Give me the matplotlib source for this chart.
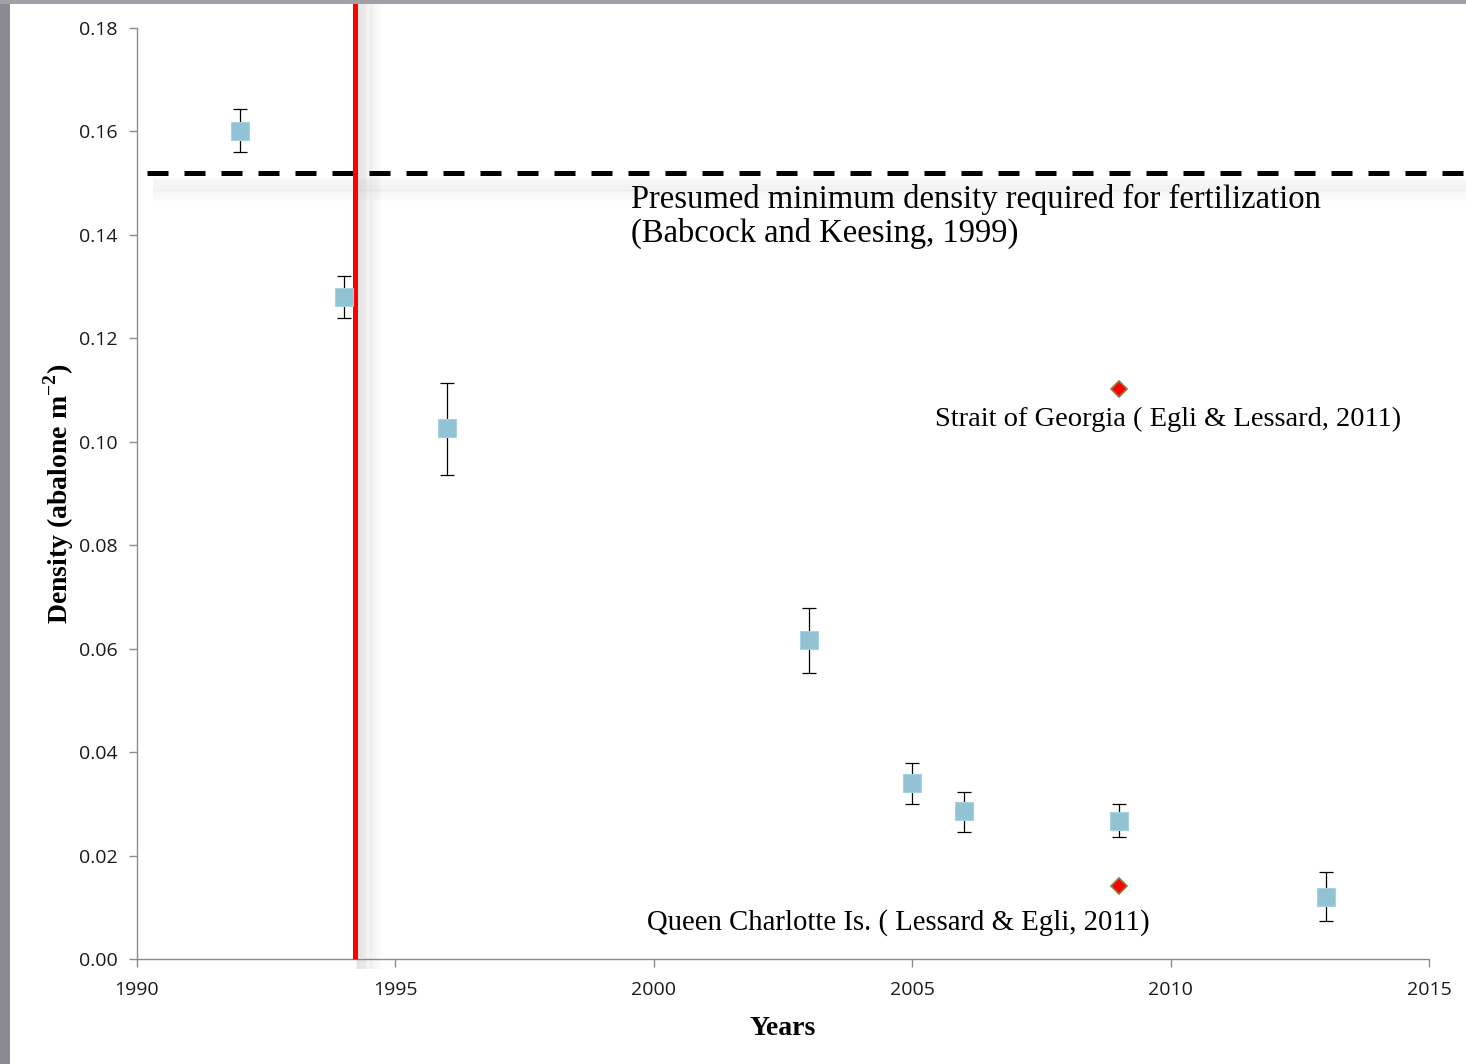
import matplotlib
matplotlib.use("Agg")
import matplotlib.pyplot as plt
from matplotlib.patches import Rectangle
import numpy as np

# ---- data ----
years = [1992, 1994, 1996, 2003, 2005, 2006, 2009, 2013]
density = [0.1601, 0.1280, 0.1027, 0.0617, 0.0340, 0.0286, 0.0267, 0.0120]
err_upper = [0.1643, 0.1320, 0.1114, 0.0679, 0.0379, 0.0323, 0.0300, 0.0168]
err_lower = [0.1560, 0.1240, 0.0936, 0.0553, 0.0300, 0.0246, 0.0236, 0.0073]

ref_years = [2009, 2009]
ref_density = [0.1102, 0.0141]

threshold = 0.152
closure_year = 1994.22

xticks = [1990, 1995, 2000, 2005, 2010, 2015]
yticks = [0.00, 0.02, 0.04, 0.06, 0.08, 0.10, 0.12, 0.14, 0.16, 0.18]

plt.rcParams["mathtext.fontset"] = "custom"
plt.rcParams["mathtext.rm"] = "Liberation Serif"
plt.rcParams["mathtext.bf"] = "Liberation Serif:bold"

# ---- figure ----
fig = plt.figure(figsize=(14.66, 10.64), dpi=100)
ax = fig.add_axes([137/1466, 1 - 959/1064, (1429-137)/1466, (959-28)/1064])

# slide border (gray strips)
fig.patches.append(Rectangle((0, 0), 10/1466, 1, transform=fig.transFigure,
                             facecolor="#8a8a90", edgecolor="none", zorder=0))
fig.patches.append(Rectangle((0, 1 - 4/1064), 1, 4/1064, transform=fig.transFigure,
                             facecolor="#a0a0a6", edgecolor="none", zorder=0))

ax.set_xlim(1990, 2015)
ax.set_ylim(0, 0.18)

# soft shadows (to the right of the red line, below the dashed line)
for i in range(1, 26):
    a = 0.10 * (1 - i / 26)
    ax.plot([closure_year + 0.02 + i * 0.02] * 2, [-0.002, 0.1855], color="0.45",
            alpha=a, lw=1.5, clip_on=False, zorder=1, solid_capstyle="butt")
for i in range(1, 14):
    a = 0.08 * (1 - abs(i - 6) / 8)
    ax.plot([1990.3, 2016.5], [threshold - 0.0008 - i * 0.00035] * 2, color="0.45",
            alpha=a, lw=1.5, clip_on=False, zorder=1, solid_capstyle="butt")

# threshold dashed line (extends beyond axes)
ax.plot([1990.2, 2016.5], [threshold, threshold], color="black", lw=3.6,
        dashes=(4.2, 3.2), clip_on=False, zorder=3)

# closure red line
ax.plot([closure_year, closure_year], [0, 0.1855], color="#ff0000", lw=3.6,
        clip_on=False, zorder=4, solid_capstyle="butt")

# data with error bars
yerr = [np.array(density) - np.array(err_lower), np.array(err_upper) - np.array(density)]
ax.errorbar(years, density, yerr=yerr, fmt="none", ecolor="black", elinewidth=0.9,
            capsize=5, capthick=0.9, zorder=5)
ax.plot(years, density, ls="none", marker="s", ms=13, mfc="#92c3d5",
        mec="#a9d0de", mew=0.8, zorder=6)

# reference points
ax.plot(ref_years, ref_density, ls="none", marker="D", ms=8.5, mfc="#ff0000",
        mec="#8c7d3c", mew=1.2, zorder=6)

serif = ["Liberation Serif", "DejaVu Serif"]
ax.text(1999.55, 0.1436, "Presumed minimum density required for fertilization\n(Babcock and Keesing, 1999)",
        family=serif, fontsize=23.5, va="center", ha="left", linespacing=1.14, zorder=7)
ax.text(2005.45, 0.1044, "Strait of Georgia ( Egli & Lessard, 2011)",
        family=serif, fontsize=20.5, va="center", ha="left", zorder=7)
ax.text(1999.86, 0.0070, "Queen Charlotte Is. ( Lessard & Egli, 2011)",
        family=serif, fontsize=20.7, va="center", ha="left", zorder=7)

# axes styling
for s in ["top", "right"]:
    ax.spines[s].set_visible(False)
for s in ["left", "bottom"]:
    ax.spines[s].set_color("#8c8c8c")
    ax.spines[s].set_linewidth(1.0)

ax.set_xticks(xticks)
ax.set_yticks(yticks)
ax.set_yticklabels([f"{v:.2f}" for v in yticks])
ax.tick_params(axis="both", direction="out", length=6, width=1.0, color="#8c8c8c",
               labelsize=14, labelcolor="#1a1a1a")
ax.tick_params(axis="x", pad=10)
ax.tick_params(axis="y", pad=8)
for lab in ax.get_xticklabels() + ax.get_yticklabels():
    lab.set_family(["Open Sans", "DejaVu Sans"])

ax.set_xlabel("Years", family=serif, fontsize=20, fontweight="bold", labelpad=12)
ax.set_ylabel("Density (abalone m$^{\\mathbf{-2}}$)", family=serif, fontsize=20,
              fontweight="bold", labelpad=2)

fig.savefig("out.png", dpi=100, facecolor="white")
